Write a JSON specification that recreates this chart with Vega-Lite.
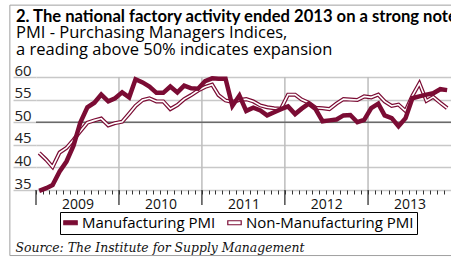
{
  "$schema": "https://vega.github.io/schema/vega-lite/v6.json",
  "width": 415,
  "height": 113,
  "autosize": {"type": "none"},
  "padding": {"left": 36, "top": 77, "right": 0, "bottom": 67},
  "background": "white",
  "config": {"view": {"stroke": null}, "font": "Open Sans"},
  "title": {
    "text": "2. The national factory activity ended 2013 on a strong note",
    "subtitle": ["PMI - Purchasing Managers Indices,", "a reading above 50% indicates expansion"],
    "anchor": "start",
    "frame": "group",
    "dx": -20,
    "offset": -54,
    "font": "Lato",
    "fontSize": 16.6,
    "fontWeight": "bold",
    "color": "#000000",
    "subtitleFont": "Open Sans",
    "subtitleFontSize": 16.5,
    "subtitleColor": "#000000",
    "subtitleLineHeight": 17,
    "subtitlePadding": 0
  },
  "datasets": {
    "years": [
      {"year": "2009-01-01"},
      {"year": "2010-01-01"},
      {"year": "2011-01-01"},
      {"year": "2012-01-01"},
      {"year": "2013-01-01"}
    ],
    "pmi": [
      {"d": "2009-01-15", "Manufacturing PMI": 34.8, "Non-Manufacturing PMI": 43.2},
      {"d": "2009-02-15", "Manufacturing PMI": 35.4, "Non-Manufacturing PMI": 41.7},
      {"d": "2009-03-15", "Manufacturing PMI": 36.1, "Non-Manufacturing PMI": 40.1},
      {"d": "2009-04-15", "Manufacturing PMI": 39.1, "Non-Manufacturing PMI": 43.3},
      {"d": "2009-05-15", "Manufacturing PMI": 41.3, "Non-Manufacturing PMI": 44.3},
      {"d": "2009-06-15", "Manufacturing PMI": 44.8, "Non-Manufacturing PMI": 46.1},
      {"d": "2009-07-15", "Manufacturing PMI": 49.9, "Non-Manufacturing PMI": 48.0},
      {"d": "2009-08-15", "Manufacturing PMI": 53.3, "Non-Manufacturing PMI": 49.9},
      {"d": "2009-09-15", "Manufacturing PMI": 54.3, "Non-Manufacturing PMI": 50.4},
      {"d": "2009-10-15", "Manufacturing PMI": 56.1, "Non-Manufacturing PMI": 50.8},
      {"d": "2009-11-15", "Manufacturing PMI": 54.6, "Non-Manufacturing PMI": 49.3},
      {"d": "2009-12-15", "Manufacturing PMI": 55.3, "Non-Manufacturing PMI": 49.8},
      {"d": "2010-01-15", "Manufacturing PMI": 56.6, "Non-Manufacturing PMI": 50.1},
      {"d": "2010-02-15", "Manufacturing PMI": 55.5, "Non-Manufacturing PMI": 51.9},
      {"d": "2010-03-15", "Manufacturing PMI": 59.5, "Non-Manufacturing PMI": 53.6},
      {"d": "2010-04-15", "Manufacturing PMI": 58.8, "Non-Manufacturing PMI": 54.9},
      {"d": "2010-05-15", "Manufacturing PMI": 57.9, "Non-Manufacturing PMI": 55.3},
      {"d": "2010-06-15", "Manufacturing PMI": 56.5, "Non-Manufacturing PMI": 54.6},
      {"d": "2010-07-15", "Manufacturing PMI": 56.5, "Non-Manufacturing PMI": 54.6},
      {"d": "2010-08-15", "Manufacturing PMI": 57.9, "Non-Manufacturing PMI": 52.9},
      {"d": "2010-09-15", "Manufacturing PMI": 56.6, "Non-Manufacturing PMI": 53.8},
      {"d": "2010-10-15", "Manufacturing PMI": 58.1, "Non-Manufacturing PMI": 55.1},
      {"d": "2010-11-15", "Manufacturing PMI": 57.5, "Non-Manufacturing PMI": 56.0},
      {"d": "2010-12-15", "Manufacturing PMI": 57.4, "Non-Manufacturing PMI": 57.0},
      {"d": "2011-01-15", "Manufacturing PMI": 59.1, "Non-Manufacturing PMI": 57.8},
      {"d": "2011-02-15", "Manufacturing PMI": 59.7, "Non-Manufacturing PMI": 58.3},
      {"d": "2011-03-15", "Manufacturing PMI": 59.6, "Non-Manufacturing PMI": 56.0},
      {"d": "2011-04-15", "Manufacturing PMI": 59.6, "Non-Manufacturing PMI": 54.8},
      {"d": "2011-05-15", "Manufacturing PMI": 53.6, "Non-Manufacturing PMI": 54.5},
      {"d": "2011-06-15", "Manufacturing PMI": 55.9, "Non-Manufacturing PMI": 54.9},
      {"d": "2011-07-15", "Manufacturing PMI": 52.5, "Non-Manufacturing PMI": 55.1},
      {"d": "2011-08-15", "Manufacturing PMI": 53.2, "Non-Manufacturing PMI": 54.6},
      {"d": "2011-09-15", "Manufacturing PMI": 52.6, "Non-Manufacturing PMI": 53.7},
      {"d": "2011-10-15", "Manufacturing PMI": 51.5, "Non-Manufacturing PMI": 53.3},
      {"d": "2011-11-15", "Manufacturing PMI": 52.2, "Non-Manufacturing PMI": 53.1},
      {"d": "2011-12-15", "Manufacturing PMI": 52.9, "Non-Manufacturing PMI": 53.0},
      {"d": "2012-01-15", "Manufacturing PMI": 53.5, "Non-Manufacturing PMI": 56.1},
      {"d": "2012-02-15", "Manufacturing PMI": 51.8, "Non-Manufacturing PMI": 56.1},
      {"d": "2012-03-15", "Manufacturing PMI": 53.0, "Non-Manufacturing PMI": 55.0},
      {"d": "2012-04-15", "Manufacturing PMI": 54.1, "Non-Manufacturing PMI": 54.3},
      {"d": "2012-05-15", "Manufacturing PMI": 52.9, "Non-Manufacturing PMI": 53.2},
      {"d": "2012-06-15", "Manufacturing PMI": 50.2, "Non-Manufacturing PMI": 53.1},
      {"d": "2012-07-15", "Manufacturing PMI": 50.4, "Non-Manufacturing PMI": 52.9},
      {"d": "2012-08-15", "Manufacturing PMI": 50.6, "Non-Manufacturing PMI": 54.1},
      {"d": "2012-09-15", "Manufacturing PMI": 51.5, "Non-Manufacturing PMI": 55.1},
      {"d": "2012-10-15", "Manufacturing PMI": 51.6, "Non-Manufacturing PMI": 55.0},
      {"d": "2012-11-15", "Manufacturing PMI": 50.0, "Non-Manufacturing PMI": 54.9},
      {"d": "2012-12-15", "Manufacturing PMI": 50.5, "Non-Manufacturing PMI": 55.7},
      {"d": "2013-01-15", "Manufacturing PMI": 53.1, "Non-Manufacturing PMI": 55.5},
      {"d": "2013-02-15", "Manufacturing PMI": 54.1, "Non-Manufacturing PMI": 56.1},
      {"d": "2013-03-15", "Manufacturing PMI": 51.5, "Non-Manufacturing PMI": 54.6},
      {"d": "2013-04-15", "Manufacturing PMI": 50.9, "Non-Manufacturing PMI": 53.6},
      {"d": "2013-05-15", "Manufacturing PMI": 49.1, "Non-Manufacturing PMI": 53.9},
      {"d": "2013-06-15", "Manufacturing PMI": 50.9, "Non-Manufacturing PMI": 52.5},
      {"d": "2013-07-15", "Manufacturing PMI": 55.3, "Non-Manufacturing PMI": 55.8},
      {"d": "2013-08-15", "Manufacturing PMI": 55.7, "Non-Manufacturing PMI": 58.6},
      {"d": "2013-09-15", "Manufacturing PMI": 56.1, "Non-Manufacturing PMI": 54.7},
      {"d": "2013-10-15", "Manufacturing PMI": 56.4, "Non-Manufacturing PMI": 55.6},
      {"d": "2013-11-15", "Manufacturing PMI": 57.3, "Non-Manufacturing PMI": 54.3},
      {"d": "2013-12-15", "Manufacturing PMI": 57.1, "Non-Manufacturing PMI": 53.1}
    ]
  },
  "layer": [
    {
      "data": {"name": "years"},
      "transform": [{"filter": "utcyear(toDate(datum.year)) > 2009"}],
      "mark": {"type": "rule", "color": "#bdbdbd", "strokeWidth": 1.5},
      "encoding": {
        "x": {"field": "year", "type": "temporal", "axis": {"orient": "bottom", "tickCount": 60, "tickSize": 4, "tickColor": "#333333", "tickWidth": 1, "labelExpr": "utcmonth(datum.value) === 0 && utcyear(datum.value) < 2014 ? utcFormat(datum.value, '%Y') : ''", "labelOffset": 41.5, "labelAlign": "center", "labelBaseline": "top", "labelFlush": false, "labelOverlap": false, "labelBound": false, "labelPadding": 3, "labelFont": "Open Sans", "labelFontSize": 14, "labelColor": "#111111", "domain": false, "grid": false, "title": "Source: The Institute for Supply Management", "titleX": -21, "titleY": 61, "titleAlign": "left", "titleAnchor": "start", "titleBaseline": "alphabetic", "titleFont": "DejaVu Serif", "titleFontStyle": "italic", "titleFontWeight": "normal", "titleFontSize": 12.4, "titleColor": "#111111"}}
      }
    },
    {
      "data": {"values": [{}]},
      "mark": {"type": "rule", "color": "#6a6a6a", "strokeWidth": 1.5},
      "encoding": {
        "y": {"datum": 50, "type": "quantitative", "axis": {"orient": "left", "values": [35, 40, 45, 50, 55, 60], "domain": false, "grid": true, "gridColor": "#c8c8c8", "gridWidth": 1.5, "ticks": true, "tickSize": 23, "tickWidth": 1.5, "tickColor": "#c8c8c8", "labelAlign": "left", "labelBaseline": "alphabetic", "labelPadding": -1, "labelOffset": -2, "labelOverlap": false, "labelFont": "Open Sans", "labelFontSize": 15, "labelColor": "#222222", "title": null}}
      }
    },
    {
      "data": {"name": "pmi"},
      "transform": [
        {"fold": ["Manufacturing PMI", "Non-Manufacturing PMI"], "as": ["series", "value"]},
        {"filter": "datum.series === 'Non-Manufacturing PMI'"}
      ],
      "mark": {"type": "line", "strokeWidth": 4},
      "encoding": {
        "x": {
          "field": "d",
          "type": "temporal",
          "scale": {"type": "utc", "domain": [{"year": 2009, "month": 1, "date": 1, "utc": true}, {"year": 2014, "month": 1, "date": 1, "utc": true}]},
          "axis": {"orient": "bottom", "tickCount": 60, "tickSize": 4, "tickColor": "#333333", "tickWidth": 1, "labelExpr": "utcmonth(datum.value) === 0 && utcyear(datum.value) < 2014 ? utcFormat(datum.value, '%Y') : ''", "labelOffset": 41.5, "labelAlign": "center", "labelBaseline": "top", "labelFlush": false, "labelOverlap": false, "labelBound": false, "labelPadding": 3, "labelFont": "Open Sans", "labelFontSize": 14, "labelColor": "#111111", "domain": false, "grid": false, "title": "Source: The Institute for Supply Management", "titleX": -21, "titleY": 61, "titleAlign": "left", "titleAnchor": "start", "titleBaseline": "alphabetic", "titleFont": "DejaVu Serif", "titleFontStyle": "italic", "titleFontWeight": "normal", "titleFontSize": 12.4, "titleColor": "#111111"}
        },
        "y": {
          "field": "value",
          "type": "quantitative",
          "scale": {"domain": [35, 60], "nice": false, "zero": false},
          "axis": {"orient": "left", "values": [35, 40, 45, 50, 55, 60], "domain": false, "grid": true, "gridColor": "#c8c8c8", "gridWidth": 1.5, "ticks": true, "tickSize": 23, "tickWidth": 1.5, "tickColor": "#c8c8c8", "labelAlign": "left", "labelBaseline": "alphabetic", "labelPadding": -1, "labelOffset": -2, "labelOverlap": false, "labelFont": "Open Sans", "labelFontSize": 15, "labelColor": "#222222", "title": null}
        },
        "color": {
          "field": "series",
          "type": "nominal",
          "scale": {"domain": ["Manufacturing PMI", "Non-Manufacturing PMI"], "range": ["#7b0c34", "#7b0c34"]},
          "legend": {
            "orient": "none",
            "legendX": 24,
            "legendY": 135,
            "direction": "horizontal",
            "title": null,
            "strokeColor": "#000000",
            "padding": 3,
            "symbolType": "M-1,-0.3H1V0.3H-1Z",
            "symbolSize": 180,
            "labelFont": "Open Sans",
            "labelFontSize": 15,
            "labelLimit": 400,
            "labelColor": "#000000",
            "labelOffset": 4,
            "columnPadding": 9,
            "encode": {
              "symbols": {
                "update": {
                  "fill": {"signal": "datum.value === 'Manufacturing PMI' ? '#7b0c34' : '#ffffff'"},
                  "stroke": {"value": "#7b0c34"},
                  "strokeWidth": {"value": 1.2}
                }
              }
            }
          }
        }
      }
    },
    {
      "data": {"name": "pmi"},
      "transform": [
        {"fold": ["Manufacturing PMI", "Non-Manufacturing PMI"], "as": ["series", "value"]},
        {"filter": "datum.series === 'Non-Manufacturing PMI'"}
      ],
      "mark": {"type": "line", "strokeWidth": 1.6, "color": "#ffffff"},
      "encoding": {
        "x": {"field": "d", "type": "temporal", "axis": {"orient": "bottom", "tickCount": 60, "tickSize": 4, "tickColor": "#333333", "tickWidth": 1, "labelExpr": "utcmonth(datum.value) === 0 && utcyear(datum.value) < 2014 ? utcFormat(datum.value, '%Y') : ''", "labelOffset": 41.5, "labelAlign": "center", "labelBaseline": "top", "labelFlush": false, "labelOverlap": false, "labelBound": false, "labelPadding": 3, "labelFont": "Open Sans", "labelFontSize": 14, "labelColor": "#111111", "domain": false, "grid": false, "title": "Source: The Institute for Supply Management", "titleX": -21, "titleY": 61, "titleAlign": "left", "titleAnchor": "start", "titleBaseline": "alphabetic", "titleFont": "DejaVu Serif", "titleFontStyle": "italic", "titleFontWeight": "normal", "titleFontSize": 12.4, "titleColor": "#111111"}},
        "y": {"field": "value", "type": "quantitative", "axis": {"orient": "left", "values": [35, 40, 45, 50, 55, 60], "domain": false, "grid": true, "gridColor": "#c8c8c8", "gridWidth": 1.5, "ticks": true, "tickSize": 23, "tickWidth": 1.5, "tickColor": "#c8c8c8", "labelAlign": "left", "labelBaseline": "alphabetic", "labelPadding": -1, "labelOffset": -2, "labelOverlap": false, "labelFont": "Open Sans", "labelFontSize": 15, "labelColor": "#222222", "title": null}}
      }
    },
    {
      "data": {"name": "pmi"},
      "transform": [
        {"fold": ["Manufacturing PMI", "Non-Manufacturing PMI"], "as": ["series", "value"]},
        {"filter": "datum.series === 'Manufacturing PMI'"}
      ],
      "mark": {"type": "line", "strokeWidth": 4.5},
      "encoding": {
        "x": {"field": "d", "type": "temporal", "axis": {"orient": "bottom", "tickCount": 60, "tickSize": 4, "tickColor": "#333333", "tickWidth": 1, "labelExpr": "utcmonth(datum.value) === 0 && utcyear(datum.value) < 2014 ? utcFormat(datum.value, '%Y') : ''", "labelOffset": 41.5, "labelAlign": "center", "labelBaseline": "top", "labelFlush": false, "labelOverlap": false, "labelBound": false, "labelPadding": 3, "labelFont": "Open Sans", "labelFontSize": 14, "labelColor": "#111111", "domain": false, "grid": false, "title": "Source: The Institute for Supply Management", "titleX": -21, "titleY": 61, "titleAlign": "left", "titleAnchor": "start", "titleBaseline": "alphabetic", "titleFont": "DejaVu Serif", "titleFontStyle": "italic", "titleFontWeight": "normal", "titleFontSize": 12.4, "titleColor": "#111111"}},
        "y": {"field": "value", "type": "quantitative", "axis": {"orient": "left", "values": [35, 40, 45, 50, 55, 60], "domain": false, "grid": true, "gridColor": "#c8c8c8", "gridWidth": 1.5, "ticks": true, "tickSize": 23, "tickWidth": 1.5, "tickColor": "#c8c8c8", "labelAlign": "left", "labelBaseline": "alphabetic", "labelPadding": -1, "labelOffset": -2, "labelOverlap": false, "labelFont": "Open Sans", "labelFontSize": 15, "labelColor": "#222222", "title": null}},
        "color": {"field": "series", "type": "nominal"}
      }
    },
    {
      "data": {"name": "years"},
      "mark": {"type": "rule", "color": "#333333", "strokeWidth": 1.3, "clip": false},
      "encoding": {
        "x": {"field": "year", "type": "temporal", "axis": {"orient": "bottom", "tickCount": 60, "tickSize": 4, "tickColor": "#333333", "tickWidth": 1, "labelExpr": "utcmonth(datum.value) === 0 && utcyear(datum.value) < 2014 ? utcFormat(datum.value, '%Y') : ''", "labelOffset": 41.5, "labelAlign": "center", "labelBaseline": "top", "labelFlush": false, "labelOverlap": false, "labelBound": false, "labelPadding": 3, "labelFont": "Open Sans", "labelFontSize": 14, "labelColor": "#111111", "domain": false, "grid": false, "title": "Source: The Institute for Supply Management", "titleX": -21, "titleY": 61, "titleAlign": "left", "titleAnchor": "start", "titleBaseline": "alphabetic", "titleFont": "DejaVu Serif", "titleFontStyle": "italic", "titleFontWeight": "normal", "titleFontSize": 12.4, "titleColor": "#111111"}},
        "y": {"datum": 35, "type": "quantitative", "axis": {"orient": "left", "values": [35, 40, 45, 50, 55, 60], "domain": false, "grid": true, "gridColor": "#c8c8c8", "gridWidth": 1.5, "ticks": true, "tickSize": 23, "tickWidth": 1.5, "tickColor": "#c8c8c8", "labelAlign": "left", "labelBaseline": "alphabetic", "labelPadding": -1, "labelOffset": -2, "labelOverlap": false, "labelFont": "Open Sans", "labelFontSize": 15, "labelColor": "#222222", "title": null}},
        "y2": {"datum": 31.7}
      }
    },
    {
      "data": {"values": [{}]},
      "mark": {"type": "rect", "fill": null, "fillOpacity": 0, "stroke": "#a0a0a0", "strokeWidth": 1, "clip": false},
      "encoding": {
        "x": {"datum": {"year": 2008, "month": 9, "date": 8, "utc": true}, "type": "temporal", "axis": {"orient": "bottom", "tickCount": 60, "tickSize": 4, "tickColor": "#333333", "tickWidth": 1, "labelExpr": "utcmonth(datum.value) === 0 && utcyear(datum.value) < 2014 ? utcFormat(datum.value, '%Y') : ''", "labelOffset": 41.5, "labelAlign": "center", "labelBaseline": "top", "labelFlush": false, "labelOverlap": false, "labelBound": false, "labelPadding": 3, "labelFont": "Open Sans", "labelFontSize": 14, "labelColor": "#111111", "domain": false, "grid": false, "title": "Source: The Institute for Supply Management", "titleX": -21, "titleY": 61, "titleAlign": "left", "titleAnchor": "start", "titleBaseline": "alphabetic", "titleFont": "DejaVu Serif", "titleFontStyle": "italic", "titleFontWeight": "normal", "titleFontSize": 12.4, "titleColor": "#111111"}},
        "x2": {"datum": {"year": 2014, "month": 6, "date": 1, "utc": true}},
        "y": {"datum": 75.9, "type": "quantitative", "axis": {"orient": "left", "values": [35, 40, 45, 50, 55, 60], "domain": false, "grid": true, "gridColor": "#c8c8c8", "gridWidth": 1.5, "ticks": true, "tickSize": 23, "tickWidth": 1.5, "tickColor": "#c8c8c8", "labelAlign": "left", "labelBaseline": "alphabetic", "labelPadding": -1, "labelOffset": -2, "labelOverlap": false, "labelFont": "Open Sans", "labelFontSize": 15, "labelColor": "#222222", "title": null}},
        "y2": {"datum": 20.5}
      }
    }
  ]
}
